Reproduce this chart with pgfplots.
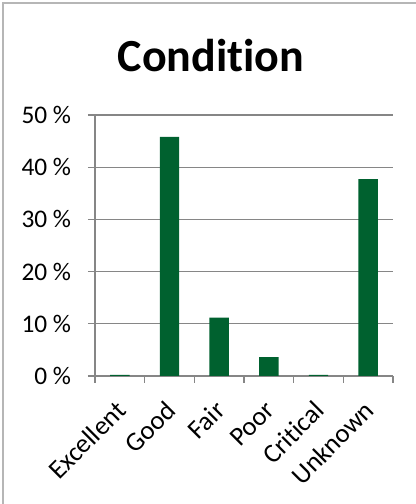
\documentclass[border=0pt]{standalone}
\usepackage{fontspec}
\setmainfont{Carlito}[Ligatures={NoCommon}]
\usepackage{pgfplots}
\pgfplotsset{compat=1.18}
\definecolor{bargreen}{RGB}{0,97,47}
\definecolor{gridgray}{RGB}{134,134,134}
\begin{document}
\begin{tikzpicture}
% 1 px of the reference = 0.75pt
\path[use as bounding box] (0,0) rectangle (312pt,378pt);
\draw[gridgray!60, line width=1.5pt] (2.25pt,0) -- (2.25pt,375.75pt) -- (312pt,375.75pt);
\node[font=\fontsize{34.5}{40}\selectfont\bfseries, anchor=base, inner sep=0pt] at (158.25pt,324pt) {Condition};
\begin{axis}[
    at={(71.25pt,96pt)}, anchor=south west,
    scale only axis,
    width=223.5pt, height=195.75pt,
    xmin=-0.5, xmax=5.5,
    ymin=0, ymax=50,
    axis x line*=bottom, axis y line*=left,
    axis line style={gridgray, line width=1pt, -},
    ytick={0,10,20,30,40,50},
    yticklabel={\pgfmathprintnumber{\tick} \%},
    ymajorgrids,
    grid style={gridgray, line width=1pt},
    tick align=outside,
    major tick length=5.25pt,
    minor tick length=5.25pt,
    y tick style={gridgray, line width=1pt},
    xtick={0,1,2,3,4,5},
    xticklabels={Excellent,Good,Fair,Poor,Critical,Unknown},
    major x tick style={draw=none},
    minor xtick={-0.5,0.5,1.5,2.5,3.5,4.5,5.5},
    minor x tick style={gridgray, line width=1pt},
    /pgf/number format/assume math mode=true,
    ticklabel style={font=\fontsize{19}{21}\selectfont},
    xticklabel style={font=\fontsize{20}{22}\selectfont, anchor=east, inner sep=0pt, xshift=1pt, yshift=-17pt, rotate=45},
    yticklabel style={anchor=east, inner sep=0pt, xshift=-12.5pt},
    ybar, bar width=0.39,
  ]
  \addplot[fill=bargreen, draw=none] coordinates {
    (0,0.2) (1,45.8) (2,11.2) (3,3.6) (4,0.2) (5,37.7)
  };
\end{axis}
\end{tikzpicture}
\end{document}
